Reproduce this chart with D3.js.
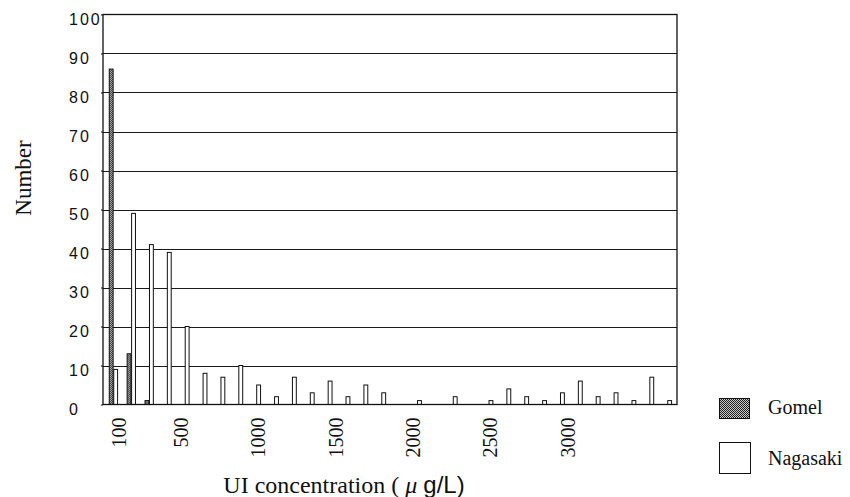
<!DOCTYPE html>
<html>
<head>
<meta charset="utf-8">
<script src="https://cdn.jsdelivr.net/npm/d3@7/dist/d3.min.js"></script>
<style>
  html, body { margin: 0; padding: 0; background: #fff; }
  svg { display: block; }
</style>
</head>
<body>
<svg id="chart" width="850" height="497"></svg>
<script>
// ---- data ----
const bins = [1,2,3,4,5,6,7,8,9,10,11,12,13,14,15,16,17,18,19,20,21,22,23,24,25,26,27,28,29,30,31,32];
const gomel    = [86,13,1,0,0,0,0,0,0,0,0,0,0,0,0,0,0,0,0,0,0,0,0,0,0,0,0,0,0,0,0,0];
const nagasaki = [9,49,41,39,20,8,7,10,5,2,7,3,6,2,5,3,0,1,0,2,0,1,4,2,1,3,6,2,3,1,7,1];
const seriesNames = ["Gomel", "Nagasaki"];
const xTickValues = [100, 500, 1000, 1500, 2000, 2500, 3000];
const xTickDomain = [0, 3710];
const yTickValues = [0, 10, 20, 30, 40, 50, 60, 70, 80, 90, 100];

// ---- layout ----
const L = 103, R = 677, T = 14.5, B = 404.5;
const svg = d3.select("#chart");

const defs = svg.append("defs");
const pat = defs.append("pattern").attr("id", "dots")
  .attr("width", 2).attr("height", 2).attr("patternUnits", "userSpaceOnUse");
pat.append("rect").attr("width", 2).attr("height", 2).attr("fill", "#c8c8c8");
pat.append("rect").attr("x", 0).attr("y", 0).attr("width", 1).attr("height", 1).attr("fill", "#222");
pat.append("rect").attr("x", 1).attr("y", 1).attr("width", 1).attr("height", 1).attr("fill", "#222");

const y = d3.scaleLinear().domain([0, 100]).range([B, T]);
const x0 = d3.scaleBand().domain(bins).range([L, R])
  .paddingInner(0.5).paddingOuter(0.31).align(0.52);
const x1 = d3.scaleBand().domain(seriesNames).range([0, x0.bandwidth()]);
const xt = d3.scaleLinear().domain(xTickDomain).range([L, R]);

// gridlines
svg.append("g").selectAll("line")
  .data(yTickValues.filter(v => v > 0 && v < 100))
  .join("line")
  .attr("x1", L).attr("x2", R)
  .attr("y1", d => Math.round(y(d)) + 0.5).attr("y2", d => Math.round(y(d)) + 0.5)
  .attr("stroke", "#1a1a1a").attr("stroke-width", 1.2);

// bars
const rows = bins.map((b, i) => ({ bin: b, values: [
  { key: "Gomel", v: gomel[i] }, { key: "Nagasaki", v: nagasaki[i] } ] }));

const groups = svg.append("g").selectAll("g").data(rows).join("g")
  .attr("transform", d => `translate(${x0(d.bin)},0)`);
groups.selectAll("rect")
  .data(d => d.values.filter(e => e.v > 0))
  .join("rect")
  .attr("x", d => x1(d.key) + 0.5)
  .attr("y", d => y(d.v))
  .attr("width", x1.bandwidth() - 0.6)
  .attr("height", d => B - y(d.v))
  .attr("fill", d => d.key === "Gomel" ? "url(#dots)" : "#fff")
  .attr("stroke", "#111").attr("stroke-width", 1);

// frame
svg.append("rect").attr("x", L).attr("y", T).attr("width", R - L).attr("height", B - T)
  .attr("fill", "none").attr("stroke", "#111").attr("stroke-width", 1.3);

// y axis ticks and labels
const yAxis = d3.axisLeft(y).tickValues(yTickValues).tickSize(2).tickFormat(d3.format("d"));
const gy = svg.append("g").attr("transform", `translate(${L},0)`).call(yAxis);
gy.select(".domain").remove();
gy.selectAll(".tick line").attr("stroke", "#111");
gy.selectAll(".tick text")
  .attr("x", -34).attr("dy", "0.62em").attr("text-anchor", "start")
  .attr("font-family", "'Liberation Sans', Arial, sans-serif")
  .attr("font-size", 16).attr("letter-spacing", "2px").attr("fill", "#111");

// x axis labels (rotated)
const xAxis = d3.axisBottom(xt).tickValues(xTickValues).tickSize(0).tickFormat(d3.format("d"));
const gx = svg.append("g").attr("transform", `translate(0,${B})`).call(xAxis);
gx.select(".domain").remove();
gx.selectAll(".tick text")
  .attr("transform", "translate(0,13) rotate(-90)")
  .attr("x", 0).attr("y", 0).attr("dy", "0.35em").attr("text-anchor", "end")
  .attr("font-family", "'Liberation Serif', 'Times New Roman', serif")
  .attr("font-size", 20).attr("fill", "#111");

// axis titles
const xt1 = svg.append("text").attr("x", 344).attr("y", 493).attr("text-anchor", "middle")
  .attr("font-size", 24).attr("fill", "#111");
xt1.append("tspan").attr("font-family", "'Liberation Serif', serif").text("UI concentration ( ");
xt1.append("tspan").attr("font-family", "'Liberation Serif', serif").attr("font-style", "italic").text("μ ");
xt1.append("tspan").attr("font-family", "'Liberation Sans', Arial, sans-serif").text("g/L)");

svg.append("text").attr("transform", "translate(31,178) rotate(-90)")
  .attr("text-anchor", "middle")
  .attr("font-family", "'Liberation Serif', serif").attr("font-size", 23).attr("fill", "#111")
  .text("Number");

// legend
const legend = svg.append("g");
const legItems = [
  { key: "Gomel", box: [719, 398, 30, 20], ty: 414 },
  { key: "Nagasaki", box: [719, 442, 31, 31], ty: 465 }
];
legItems.forEach(it => {
  legend.append("rect").attr("x", it.box[0] + 0.5).attr("y", it.box[1] + 0.5)
    .attr("width", it.box[2]).attr("height", it.box[3])
    .attr("fill", it.key === "Gomel" ? "url(#dots)" : "#fff")
    .attr("stroke", "#111").attr("stroke-width", 1);
  legend.append("text").attr("x", 768).attr("y", it.ty)
    .attr("font-family", "'Liberation Serif', serif").attr("font-size", 20).attr("fill", "#111")
    .text(it.key);
});
</script>
</body>
</html>
